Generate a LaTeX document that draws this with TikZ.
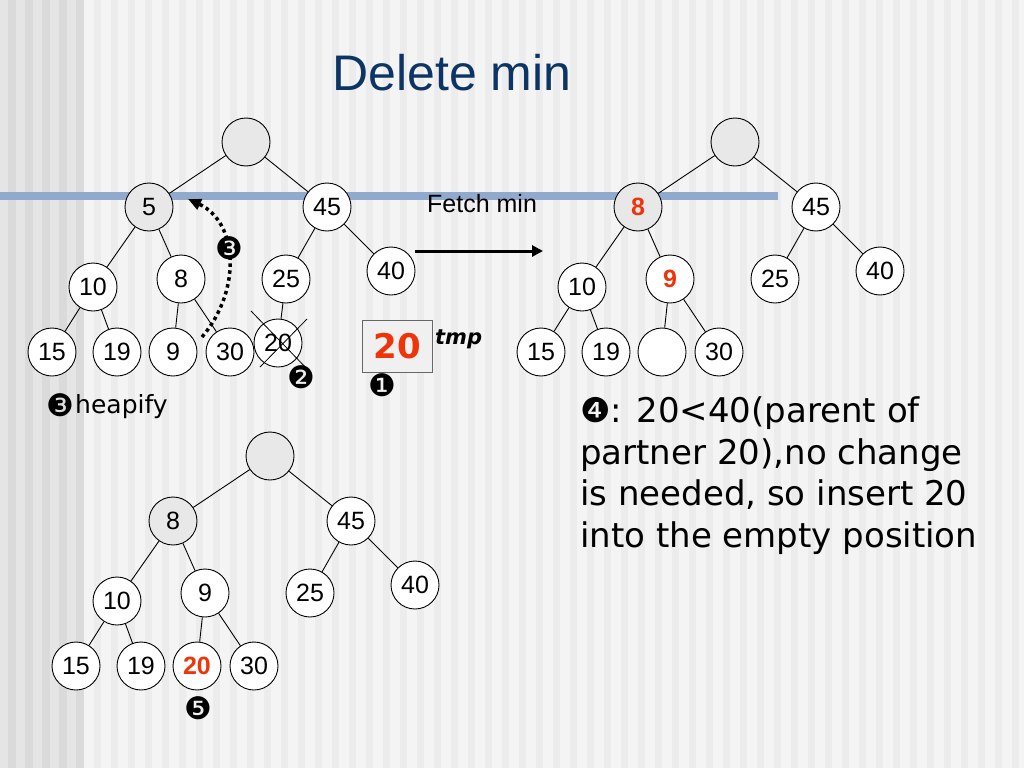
\documentclass[tikz,border=0pt]{standalone}
\usepackage{fontspec}
\setmainfont{Liberation Sans}
\newfontfamily\verd{DejaVu Sans}
\newfontfamily\verdb{DejaVu Sans Bold}
\newfontfamily\verdbi{DejaVu Sans Bold Oblique}
\usetikzlibrary{arrows.meta}
\definecolor{bgbase}{RGB}{244,244,244}
\definecolor{bgstripe}{RGB}{236,236,236}
\definecolor{bgleft}{RGB}{229,229,229}
\definecolor{bgleftdark}{RGB}{218,218,218}
\definecolor{barblue}{RGB}{143,170,204}
\definecolor{nodegray}{RGB}{232,232,232}
\definecolor{hred}{RGB}{240,52,10}
\definecolor{titleblue}{RGB}{12,52,100}
\definecolor{boxgray}{RGB}{240,240,240}
\begin{document}
\begin{tikzpicture}[x=1pt,y=-1pt,
  hn/.style={circle,draw=black,line width=0.9pt,minimum size=48pt,inner sep=0pt,fill=white,font=\fontsize{25}{25}\selectfont},
  gn/.style={hn,fill=nodegray},
  rn/.style={font=\fontsize{25}{25}\selectfont\bfseries,text=hred},
  tedge/.style={line width=0.9pt},
  num/.style={font=\verd\fontsize{31}{31}\selectfont,inner sep=0pt},
  txt/.style={font=\verd\fontsize{34}{34}\selectfont,anchor=base west,inner sep=0pt}]
\useasboundingbox (0,0) rectangle (1024,768);
% background
\fill[bgbase] (0,0) rectangle (1024,768);
\foreach \i in {0,...,56} \fill[bgstripe] ({77+\i*17},0) rectangle +(7,768);
\fill[bgleft] (0,0) rectangle (77,768);
\foreach \i in {0,...,4} \fill[bgleftdark] ({\i*17+8},0) rectangle +(8,768);
% blue bar
\fill[barblue] (0,192) rectangle (778,200);
% title
\node[font=\fontsize{50}{50}\selectfont,text=titleblue] (title) at (452,73) {Delete min};

% ---------- tree 1 ----------
\node[gn] (ar) at (246,142) {};
\node[gn] (a5) at (149,207) {5};
\node[hn] (a45) at (327,207) {45};
\node[hn] (a10) at (93,287) {10};
\node[hn] (a8) at (181,279) {8};
\node[hn] (a25) at (286,279) {25};
\node[hn] (a40) at (391,271) {40};
\node[hn] (a15) at (52,352) {15};
\node[hn] (a19) at (117,352) {19};
\node[hn] (a9) at (173,352) {9};
\node[hn] (a30) at (230,352) {30};
\node[hn] (a20) at (278,343) {20};
\foreach \p/\c in {ar/a5,ar/a45,a5/a10,a5/a8,a10/a15,a10/a19,a8/a9,a8/a30,a45/a25,a45/a40,a25/a20}
  \draw[tedge] (\p) -- (\c);
\coordinate (x1a) at (251,311); \coordinate (x1b) at (311,373);
\coordinate (x2a) at (307,319); \coordinate (x2b) at (260,367);
\draw[line width=0.8pt] (x1a) -- (x1b);
\draw[line width=0.8pt] (x2a) -- (x2b);
% heapify arrow
\coordinate (hs) at (202,337);
\coordinate (he) at (188,199);
\draw[line width=3.5pt,dash pattern=on 3.5pt off 3.5pt,-{Triangle[length=13pt,width=11pt]}]
  (hs) .. controls (242,290) and (238,222) .. (he);
\node[num] (m3a) at (229,248) {❸};
\node[num] (m2) at (301,377) {❷};
\node[num] (m1) at (382,385) {❶};
\node[num] (m3b) at (60,405) {❸};
\node[font=\verd\fontsize{25}{25}\selectfont,anchor=base west,inner sep=0pt] (heap) at (75,413) {heapify};
% tmp box
\node[draw=black!60,line width=0.9pt,fill=boxgray,minimum width=70pt,minimum height=52pt,inner sep=0pt,
  font=\verdb\fontsize{34}{34}\selectfont,text=hred] (tmpbox) at (397,346) {20};
\node[font=\verdbi\fontsize{21}{21}\selectfont,anchor=west,inner sep=0pt] (tmplbl) at (435,339) {tmp};
% fetch min
\node[font=\fontsize{25}{25}\selectfont,anchor=west,inner sep=0pt] (fetch) at (427,204) {Fetch min};
\coordinate (fs) at (415,251);
\coordinate (fe) at (543,251);
\draw[line width=3pt,-{Triangle[length=11pt,width=11pt]}] (fs) -- (fe);

% ---------- tree 2 ----------
\begin{scope}[shift={(489,0)}]
\node[gn] (br) at (246,142) {};
\node[gn,rn] (b8) at (149,207) {8};
\node[hn] (b45) at (327,207) {45};
\node[hn] (b10) at (93,287) {10};
\node[hn,rn] (b9) at (181,279) {9};
\node[hn] (b25) at (286,279) {25};
\node[hn] (b40) at (391,271) {40};
\node[hn] (b15) at (52,352) {15};
\node[hn] (b19) at (117,352) {19};
\node[hn] (be) at (173,352) {};
\node[hn] (b30) at (230,352) {30};
\end{scope}
\foreach \p/\c in {br/b8,br/b45,b8/b10,b8/b9,b10/b15,b10/b19,b9/be,b9/b30,b45/b25,b45/b40}
  \draw[tedge] (\p) -- (\c);

% ---------- tree 3 ----------
\begin{scope}[shift={(24,314)}]
\node[gn] (cr) at (246,142) {};
\node[gn] (c8) at (149,207) {8};
\node[hn] (c45) at (327,207) {45};
\node[hn] (c10) at (93,287) {10};
\node[hn] (c9) at (181,279) {9};
\node[hn] (c25) at (286,279) {25};
\node[hn] (c40) at (391,271) {40};
\node[hn] (c15) at (52,352) {15};
\node[hn] (c19) at (117,352) {19};
\node[hn,rn] (c20) at (173,352) {20};
\node[hn] (c30) at (230,352) {30};
\node[num] (m5) at (174,394) {❺};
\end{scope}
\foreach \p/\c in {cr/c8,cr/c45,c8/c10,c8/c9,c10/c15,c10/c19,c9/c20,c9/c30,c45/c25,c45/c40}
  \draw[tedge] (\p) -- (\c);

% ---------- explanation ----------
\node[txt] (t1) at (580,422) {❹: 20<40(parent of};
\node[txt] (t2) at (580,464) {partner 20),no change};
\node[txt] (t3) at (580,505) {is needed, so insert 20};
\node[txt] (t4) at (580,547) {into the empty position};
\end{tikzpicture}
\end{document}
